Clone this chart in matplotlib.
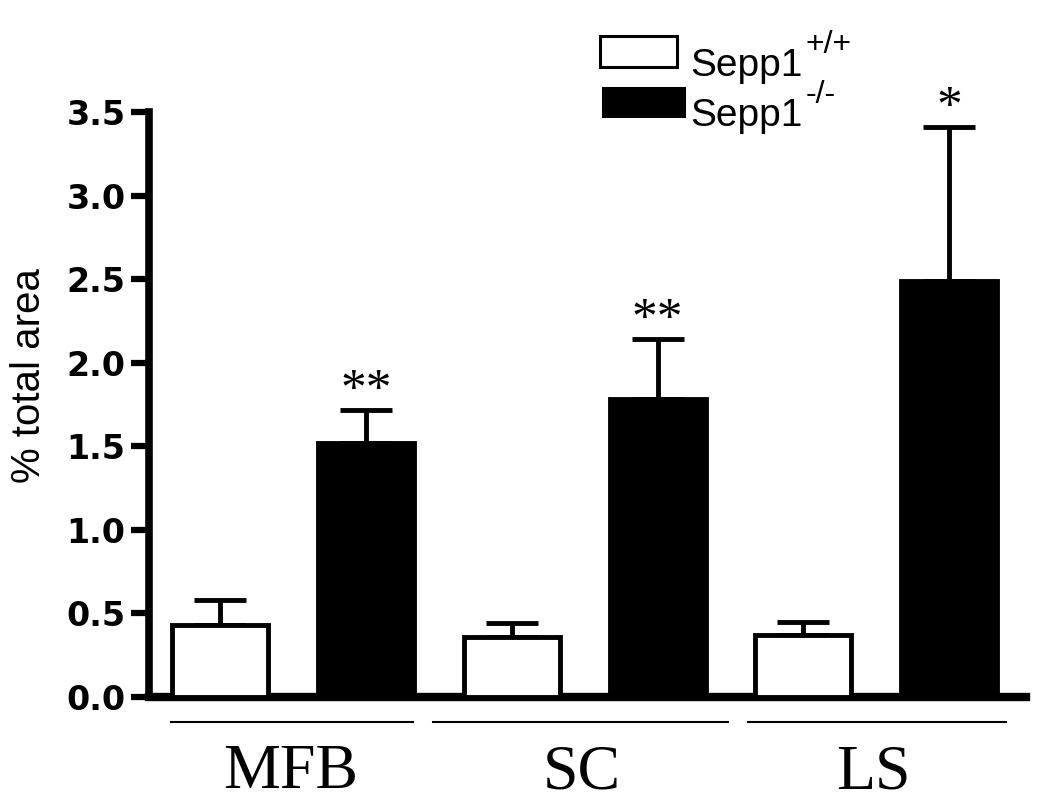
import numpy as np
import matplotlib
matplotlib.use('Agg')
import matplotlib.pyplot as plt
from matplotlib.patches import Rectangle

# data
groups = ['MFB', 'SC', 'LS']
wt_mean = [0.43, 0.36, 0.37]
wt_sem = [0.15, 0.08, 0.08]
ko_mean = [1.52, 1.78, 2.49]
ko_sem = [0.20, 0.36, 0.92]
stars = ['**', '**', '*']
yticks = [0.0, 0.5, 1.0, 1.5, 2.0, 2.5, 3.0, 3.5]
legend_names = ['Sepp1', 'Sepp1']
legend_sups = ['+/+', '-/-']
legend_colors = ['white', 'black']

# underline extents (left/right of each group centre)
underline = [(-0.42, 0.41), (-0.52, 0.49), (-0.44, 0.445)]

plt.rcParams['font.family'] = ['Liberation Sans', 'DejaVu Sans']

fig = plt.figure(figsize=(10.5, 8.07), dpi=100)
ax = fig.add_axes([149 / 1050, 1 - 697 / 807, 877 / 1050, 585 / 807])

x = np.arange(len(groups))
off = 0.25
w = 0.33

ax.bar(x - off, wt_mean, width=w, color='white', edgecolor='black', linewidth=3.5, zorder=3)
ax.bar(x + off, ko_mean, width=w, color='black', edgecolor='black', linewidth=3.5, zorder=3)

zeros = np.zeros(len(groups))
ax.errorbar(x - off, wt_mean, yerr=[zeros, wt_sem], fmt='none', ecolor='black',
            elinewidth=3.5, capsize=19, capthick=3.5, zorder=2)
ax.errorbar(x + off, ko_mean, yerr=[zeros, ko_sem], fmt='none', ecolor='black',
            elinewidth=3.5, capsize=19, capthick=3.5, zorder=2)

# significance stars
for xi, m, e, s in zip(x + off, ko_mean, ko_sem, stars):
    ax.annotate(s, xy=(xi, m + e), xytext=(0, -3), textcoords='offset points',
                ha='center', va='bottom', fontsize=37, family='Liberation Serif')

ax.set_xlim(-0.495, 2.514)
ax.set_ylim(0, 3.5)
ax.set_yticks(yticks)
ax.set_yticklabels([f'{t:.1f}' for t in yticks], fontweight='bold', fontsize=24,
                   family='DejaVu Sans')
ax.set_xticks([])
ax.tick_params(axis='y', length=13, width=4.5, pad=4)
ax.set_ylabel('% total area', fontsize=29)
ax.yaxis.set_label_coords(-0.115, 0.549)

for side in ['top', 'right']:
    ax.spines[side].set_visible(False)
ax.spines['left'].set_linewidth(5.5)
ax.spines['bottom'].set_linewidth(6)

# group underlines and labels below the axis
trans = ax.get_xaxis_transform()
for xi, (lo, hi), g in zip(x, underline, groups):
    ax.plot([xi + lo, xi + hi], [-0.043, -0.043], color='black', lw=1.5,
            transform=trans, clip_on=False)
    ax.text(xi - 0.01, -0.1556, g, transform=trans, ha='center', va='baseline',
            fontsize=46, family='Liberation Serif')

# legend drawn by hand: box, name, superscript
box_x = [600, 603]
box_top = [36, 88]
box_w = [77, 81]
box_h = [31, 28]
text_base = [76, 126]
for bx, bt, bw, bh, tb, nm, sp, c in zip(box_x, box_top, box_w, box_h, text_base,
                                         legend_names, legend_sups, legend_colors):
    fig.patches.append(Rectangle((bx / 1050, 1 - (bt + bh) / 807), bw / 1050, bh / 807,
                                 facecolor=c, edgecolor='black', linewidth=2.2,
                                 transform=fig.transFigure))
    t = fig.text(690 / 1050, 1 - tb / 807, nm, fontsize=28, va='baseline')
    ax.annotate(sp, xy=(1, 1), xycoords=t, xytext=(2, 13), textcoords='offset points',
                ha='left', va='top', fontsize=23)

fig.savefig('out.png', dpi=100)
